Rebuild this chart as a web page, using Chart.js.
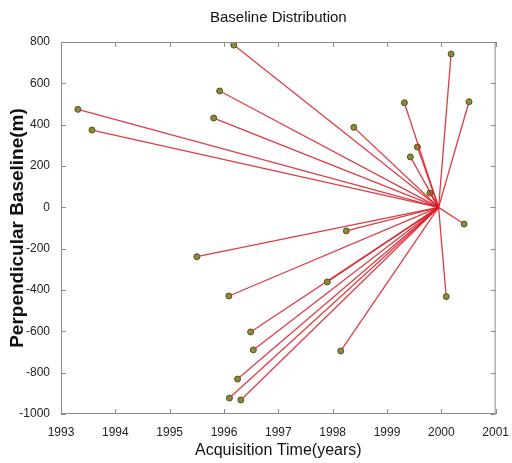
<!DOCTYPE html>
<html lang="en">
<head>
    <meta charset="UTF-8">
    <title>Baseline Distribution</title>
    <script src="https://cdn.jsdelivr.net/npm/chart.js"></script>
    <style>
        html, body { margin: 0; padding: 0; background: #fff; }
        #wrap { width: 512px; height: 463px; }
    </style>
</head>
<body>
    <div id="wrap"><canvas id="baselines"></canvas></div>

    <script>
        // master acquisition (all baselines are drawn from it)
        const masterYear = 1999.95;
        const masterBaseline = 0;

        // slave acquisitions
        const slaveYears = [1996.18, 1995.92, 1995.81, 1993.31, 1993.57, 1998.39, 1999.32, 2000.18,
                            2000.51, 1999.56, 1999.43, 1999.79, 2000.42, 1998.25, 1995.50, 1996.09,
                            1997.90, 2000.09, 1996.49, 1996.54, 1998.15, 1996.25, 1996.10, 1996.31];
        const slaveBaselines = [785, 563, 432, 474, 374, 387, 506, 742,
                                511, 292, 244, 69, -81, -114, -239, -429,
                                -361, -432, -603, -690, -695, -831, -923, -932];

        const yearTicks = [1993, 1994, 1995, 1996, 1997, 1998, 1999, 2000, 2001];
        const baselineTicks = [-1000, -800, -600, -400, -200, 0, 200, 400, 600, 800];

        const fontFamily = "'Liberation Sans', Arial, sans-serif";

        // one dataset per baseline: master -> slave
        const datasets = slaveYears.map((yr, i) => ({
            data: [
                { x: masterYear, y: masterBaseline },
                { x: yr, y: slaveBaselines[i] }
            ],
            showLine: true,
            borderColor: 'rgba(214, 28, 38, 0.85)',
            borderWidth: 1.3,
            pointRadius: [0, 3],
            pointBackgroundColor: '#8d8a35',
            pointBorderColor: '#55532a',
            pointBorderWidth: 1
        }));

        // MATLAB style box with inward ticks
        const boxTicks = {
            id: 'boxTicks',
            afterDraw(chart) {
                const ctx = chart.ctx;
                const a = chart.chartArea;
                const xs = chart.scales.x, ys = chart.scales.y;
                ctx.save();
                ctx.strokeStyle = '#8a8a8a';
                ctx.lineWidth = 1;
                ctx.strokeRect(a.left + 0.5, a.top + 0.5, a.right - a.left - 1, a.bottom - a.top - 1);
                ctx.beginPath();
                yearTicks.forEach(v => {
                    const px = Math.round(xs.getPixelForValue(v)) + 0.5;
                    ctx.moveTo(px, a.bottom); ctx.lineTo(px, a.bottom - 5);
                    ctx.moveTo(px, a.top); ctx.lineTo(px, a.top + 5);
                });
                baselineTicks.forEach(v => {
                    const py = Math.round(ys.getPixelForValue(v)) + 0.5;
                    ctx.moveTo(a.left, py); ctx.lineTo(a.left + 5, py);
                    ctx.moveTo(a.right, py); ctx.lineTo(a.right - 5, py);
                });
                ctx.stroke();
                ctx.restore();
            }
        };

        new Chart(document.getElementById('baselines'), {
            type: 'scatter',
            data: { datasets: datasets },
            options: {
                responsive: true,
                maintainAspectRatio: false,
                animation: false,
                layout: { padding: { left: 0, right: 13, top: 0, bottom: 0 } },
                plugins: {
                    legend: { display: false },
                    tooltip: { enabled: false },
                    title: {
                        display: true,
                        fullSize: false,
                        text: 'Baseline Distribution',
                        color: '#111',
                        font: { family: fontFamily, size: 15, weight: 'normal', lineHeight: 1.2 },
                        padding: { top: 9, bottom: 15 }
                    }
                },
                scales: {
                    x: {
                        type: 'linear',
                        min: 1993,
                        max: 2001,
                        afterBuildTicks: s => { s.ticks = yearTicks.map(v => ({ value: v })); },
                        afterFit: s => { s.height = 49; },
                        grid: { display: false },
                        border: { display: false },
                        ticks: {
                            color: '#222',
                            padding: 3,
                            font: { family: fontFamily, size: 12 },
                            callback: v => String(v)
                        },
                        title: {
                            display: true,
                            text: 'Acquisition Time(years)',
                            color: '#111',
                            font: { family: fontFamily, size: 16, lineHeight: 1.2 },
                            padding: { top: 0, bottom: 3 }
                        }
                    },
                    y: {
                        type: 'linear',
                        min: -1000,
                        max: 800,
                        afterBuildTicks: s => { s.ticks = baselineTicks.map(v => ({ value: v })); },
                        afterFit: s => { s.width = 61; },
                        grid: { display: false },
                        border: { display: false },
                        ticks: {
                            color: '#222',
                            padding: 3,
                            font: { family: fontFamily, size: 12 },
                            callback: v => String(v)
                        },
                        title: {
                            display: true,
                            text: 'Perpendicular Baseline(m)',
                            color: '#111',
                            font: { family: fontFamily, size: 19, weight: 'bold', lineHeight: 1.2 },
                            padding: { top: 6, bottom: 0 }
                        }
                    }
                }
            },
            plugins: [boxTicks]
        });
    </script>
</body>
</html>
